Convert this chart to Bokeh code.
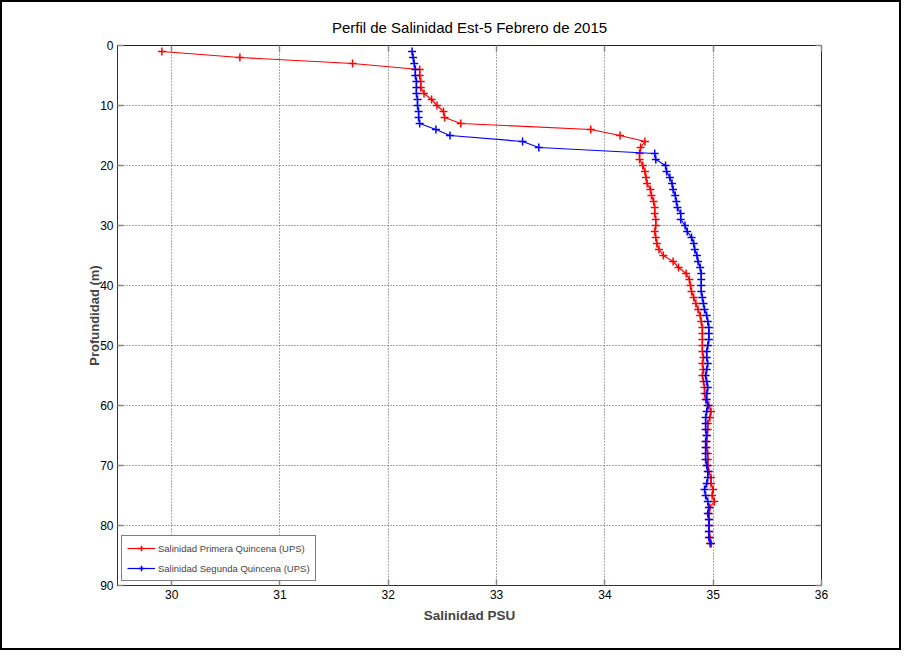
from bokeh.plotting import figure
from bokeh.models import (Range1d, SingleIntervalTicker, Legend, LegendItem, InlineStyleSheet,
                          LinearAxis, CustomLabelingPolicy)
from bokeh.embed import file_html
from bokeh.resources import INLINE

depth = list(range(1, 84))

sal_primera = [
    29.91, 30.63, 31.67, 32.29, 32.29, 32.30, 32.30, 32.33, 32.40, 32.45,
    32.51, 32.52, 32.67, 33.87, 34.14, 34.37, 34.33, 34.32, 34.32, 34.35,
    34.37, 34.38, 34.39, 34.42, 34.43, 34.45, 34.46, 34.46, 34.47, 34.47,
    34.46, 34.47, 34.48, 34.50, 34.54, 34.63, 34.68, 34.75, 34.78, 34.79,
    34.80, 34.82, 34.84, 34.86, 34.88, 34.89, 34.90, 34.90, 34.90, 34.90,
    34.90, 34.91, 34.90, 34.91, 34.90, 34.91, 34.92, 34.92, 34.93, 34.96,
    34.98, 34.97, 34.95, 34.95, 34.94, 34.94, 34.94, 34.95, 34.95, 34.95,
    34.96, 34.98, 34.98, 35.00, 34.99, 35.01, 34.97, 34.96, 34.96, 34.96,
    34.96, 34.97, 34.97,
]

sal_segunda = [
    32.22, 32.23, 32.24, 32.25, 32.25, 32.26, 32.26, 32.26, 32.27, 32.27,
    32.28, 32.28, 32.29, 32.44, 32.57, 33.24, 33.39, 34.46, 34.47, 34.56,
    34.57, 34.60, 34.62, 34.63, 34.65, 34.66, 34.67, 34.70, 34.70, 34.74,
    34.76, 34.80, 34.82, 34.83, 34.85, 34.86, 34.88, 34.89, 34.89, 34.89,
    34.89, 34.90, 34.91, 34.92, 34.94, 34.95, 34.96, 34.96, 34.96, 34.95,
    34.94, 34.94, 34.95, 34.94, 34.93, 34.94, 34.95, 34.94, 34.94, 34.95,
    34.94, 34.93, 34.93, 34.93, 34.94, 34.93, 34.93, 34.93, 34.93, 34.94,
    34.95, 34.95, 34.94, 34.92, 34.93, 34.95, 34.96, 34.95, 34.96, 34.96,
    34.96, 34.96, 34.98,
]

title_text = "Perfil de Salinidad Est-5 Febrero de 2015"
x_label = "Salinidad PSU"
y_label = "Profundidad (m)"
label_primera = "Salinidad Primera Quincena (UPS)"
label_segunda = "Salinidad Segunda Quincena (UPS)"

SANS = "Liberation Sans"

p = figure(width=901, height=650, output_backend="svg", toolbar_location=None,
           x_range=Range1d(29.5, 36), y_range=Range1d(90, 0),
           min_border_left=117, min_border_right=80, min_border_top=45,
           min_border_bottom=65)
p.stylesheets = [InlineStyleSheet(css=(
    ":host { position: relative; }"
    ":host::after { content: ''; position: absolute; left: 0; top: 0; right: 0; bottom: 0;"
    " border: 2px solid black; pointer-events: none; z-index: 100; }"))]

p.title.text = title_text
p.title.align = "center"
p.title.text_font = SANS
p.title.text_font_size = "15px"
p.title.text_font_style = "normal"
p.title.text_color = "black"
p.title.standoff = 11

p.outline_line_color = "#222222"
p.outline_line_width = 1

for ax, interval in ((p.xaxis[0], 1), (p.yaxis[0], 10)):
    ax.ticker = SingleIntervalTicker(interval=interval, num_minor_ticks=0)
    ax.major_tick_in = 6
    ax.major_tick_out = 0
    ax.major_tick_line_color = "#888888"
    ax.major_tick_line_width = 1.5
    ax.minor_tick_line_color = None
    ax.axis_line_color = "#333333"
    ax.major_label_text_font = SANS
    ax.major_label_text_font_size = "12px"
    ax.major_label_text_color = "black"

p.xaxis[0].major_label_standoff = 4
p.yaxis[0].major_label_standoff = 4

p.xaxis[0].axis_label = x_label
p.xaxis[0].axis_label_text_font = SANS
p.xaxis[0].axis_label_text_font_size = "13.5px"
p.xaxis[0].axis_label_text_font_style = "bold"
p.xaxis[0].axis_label_standoff = 6

p.yaxis[0].axis_label = y_label
p.yaxis[0].axis_label_text_font = SANS
p.yaxis[0].axis_label_text_font_size = "13px"
p.yaxis[0].axis_label_text_font_style = "bold"
p.yaxis[0].axis_label_standoff = -5

# MATLAB-style box ticks on the top and right edges (no labels drawn)
hide_labels = "for (const i of indices) { indices.unset(i) }\nreturn indices"
for loc, interval in (("above", 1), ("right", 10)):
    extra = LinearAxis(ticker=SingleIntervalTicker(interval=interval, num_minor_ticks=0),
                       major_tick_in=6, major_tick_out=0, major_tick_line_color="#888888",
                       major_tick_line_width=1.5, minor_tick_line_color=None,
                       axis_line_color=None, major_label_text_font_size="1px",
                       major_label_standoff=0,
                       major_label_policy=CustomLabelingPolicy(code=hide_labels))
    p.add_layout(extra, loc)

p.grid.grid_line_color = "#444444"
p.grid.grid_line_dash = "1 2"
p.grid.grid_line_width = 1
p.grid.grid_line_alpha = 0.9

r_line = p.line(sal_primera, depth, line_color="#ff0000", line_width=1.2)
r_pts = p.scatter(sal_primera, depth, marker="cross", size=8,
                  line_color="#ff0000", line_width=1.5)
b_line = p.line(sal_segunda, depth, line_color="#0000ff", line_width=1.2)
b_pts = p.scatter(sal_segunda, depth, marker="cross", size=8,
                  line_color="#0000ff", line_width=1.5)

legend = Legend(items=[LegendItem(label=label_primera, renderers=[r_line, r_pts]),
                       LegendItem(label=label_segunda, renderers=[b_line, b_pts])],
                location="bottom_left")
legend.label_text_font = SANS
legend.label_text_font_size = "9.5px"
legend.border_line_color = "black"
legend.border_line_width = 1
legend.glyph_width = 28
legend.glyph_height = 14
legend.spacing = 6
legend.padding = 5
legend.margin = 4
legend.label_standoff = 3
legend.label_height = 14
p.add_layout(legend)

open("out.html", "w").write(file_html(p, INLINE))
